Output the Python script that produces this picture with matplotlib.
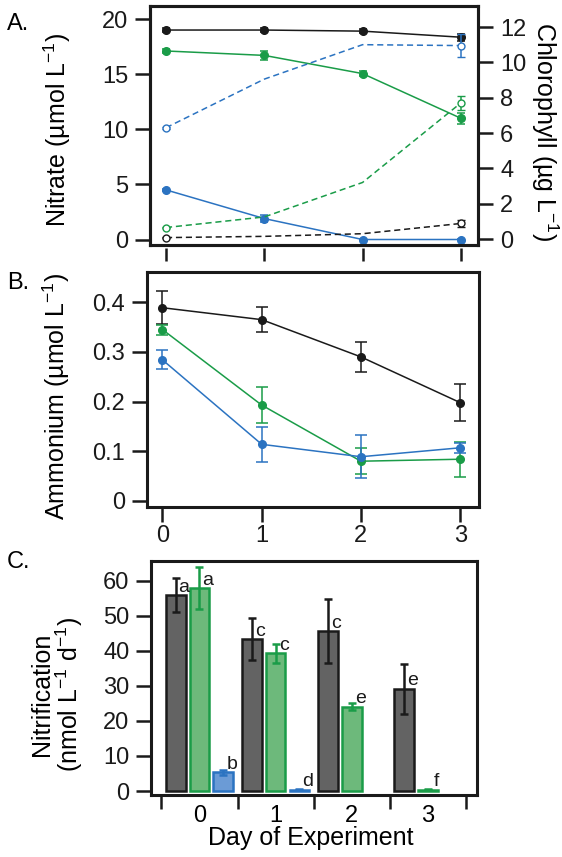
import numpy as np
import matplotlib
matplotlib.use('Agg')
import matplotlib.pyplot as plt

plt.rcParams['font.family'] = ['Liberation Sans', 'DejaVu Sans']
plt.rcParams['mathtext.fontset'] = 'custom'
plt.rcParams['mathtext.rm'] = 'Liberation Sans'
plt.rcParams['mathtext.default'] = 'regular'

# ---- data ----
days = [0, 1, 2, 3]

# A. nitrate (left axis, solid, filled)
nitrate_black = [19.0, 19.0, 18.9, 18.35]
nitrate_black_err = [0.15, 0.15, 0.2, 0.3]
nitrate_green = [17.1, 16.7, 15.05, 11.0]
nitrate_green_err = [0.15, 0.4, 0.2, 0.5]
nitrate_blue = [4.5, 1.9, 0.0, 0.0]
nitrate_blue_err = [0.1, 0.3, 0.05, 0.05]

# A. chlorophyll (right axis, dashed, open)
chl_black = [0.08, 0.15, 0.3, 0.88]
chl_black_err = [0.05, 0, 0, 0.2]
chl_green = [0.65, 1.25, 3.2, 7.7]
chl_green_err = [0.05, 0, 0, 0.4]
chl_blue = [6.3, 9.05, 11.0, 10.95]
chl_blue_err = [0.05, 0, 0, 0.65]

# B. ammonium
amm_black = [0.389, 0.365, 0.290, 0.198]
amm_black_err = [0.033, 0.025, 0.031, 0.037]
amm_green = [0.345, 0.193, 0.080, 0.084]
amm_green_err = [0.01, 0.037, 0.026, 0.035]
amm_blue = [0.284, 0.114, 0.089, 0.107]
amm_blue_err = [0.019, 0.035, 0.043, 0.01]

# C. nitrification
nit_black = [55.9, 43.3, 45.6, 29.1]
nit_black_err = [4.8, 6.0, 9.1, 7.2]
nit_green = [57.8, 39.3, 24.0, 0.4]
nit_green_err = [6.0, 2.7, 1.0, 0.2]
nit_blue = [5.3, 0.4, np.nan, np.nan]
nit_blue_err = [0.7, 0.2, np.nan, np.nan]
let_black = ['a', 'c', 'c', 'e']
let_green = ['a', 'c', 'e', 'f']
let_blue = ['b', 'd', '', '']

BLK = '#1a1a1a'
GRN = '#1a9c48'
BLU = '#2b73c1'

TICK_FS = 17
LAB_FS = 18

fig = plt.figure(figsize=(5.62, 8.57), dpi=100)

def style(ax):
    for s in ax.spines.values():
        s.set_linewidth(2.2)
        s.set_color(BLK)
    ax.tick_params(axis='both', direction='out', length=10.5, width=1.8,
                   labelsize=TICK_FS, colors=BLK, pad=5)

## ---- A ----
axA = fig.add_axes([0.2669, 0.7141, 0.5845, 0.2789])
style(axA)
axA.set_xlim(-0.163, 3.18)
axA.set_ylim(-0.5, 21.18)
axA.set_yticks([0, 5, 10, 15, 20])
axA.tick_params(axis='x', bottom=False, labelbottom=False)
secA = axA.secondary_xaxis(-0.013)
secA.spines['bottom'].set_visible(False)
secA.set_xticks(days)
secA.tick_params(axis='x', direction='out', length=9.5, width=1.8, labelbottom=False, colors=BLK)

for y, e, c in [(nitrate_black, nitrate_black_err, BLK),
                (nitrate_green, nitrate_green_err, GRN),
                (nitrate_blue, nitrate_blue_err, BLU)]:
    axA.errorbar(days, y, yerr=e, color=c, lw=1.1, marker='o', ms=5.5,
                 capsize=3, elinewidth=1.1, capthick=1.1, zorder=3)
axA.set_ylabel('Nitrate (µmol L$^{-1}$)', fontsize=LAB_FS, va='center')
axA.yaxis.set_label_coords(-0.283, 0.48)

ax2 = axA.twinx()
style(ax2)
ax2.set_ylim(-0.34, 13.19)
ax2.set_yticks([0, 2, 4, 6, 8, 10, 12])
for y, e, c in [(chl_black, chl_black_err, BLK),
                (chl_green, chl_green_err, GRN),
                (chl_blue, chl_blue_err, BLU)]:
    ax2.plot(days, y, color=c, lw=1.1, ls=(0, (4, 2.5)), zorder=2)
    ax2.errorbar([days[0], days[3]], [y[0], y[3]], yerr=[e[0], e[3]], color=c,
                 ls='none', marker='o', mfc='white', mec=c, ms=5, mew=1.0,
                 capsize=3, elinewidth=1.1, capthick=1.1, zorder=2)
ax2.set_ylabel('Chlorophyll (µg L$^{-1}$)', fontsize=LAB_FS, rotation=270, va='center')
ax2.yaxis.set_label_coords(1.2025, 0.475)

## ---- B ----
axB = fig.add_axes([0.2607, 0.4088, 0.5916, 0.2742])
style(axB)
axB.set_xlim(-0.161, 3.19)
axB.set_ylim(-0.0115, 0.4616)
axB.set_yticks([0, 0.1, 0.2, 0.3, 0.4])
axB.set_yticklabels(['0', '0.1', '0.2', '0.3', '0.4'])
axB.set_xticks(days)
axB.tick_params(axis='x', pad=3)
for y, e, c in [(amm_black, amm_black_err, BLK),
                (amm_green, amm_green_err, GRN),
                (amm_blue, amm_blue_err, BLU)]:
    axB.errorbar(days, y, yerr=e, color=c, lw=1.1, marker='o', ms=5.5,
                 capsize=4, elinewidth=1.1, capthick=1.1, zorder=3)
axB.set_ylabel('Ammonium (µmol L$^{-1}$)', fontsize=LAB_FS, va='center')
axB.yaxis.set_label_coords(-0.27, 0.467)

## ---- C ----
axC = fig.add_axes([0.2687, 0.0723, 0.5794, 0.2731])
style(axC)
axC.set_xlim(-0.636, 3.64)
axC.set_ylim(-1.14, 65.6)
axC.set_yticks([0, 10, 20, 30, 40, 50, 60])
x = np.arange(len(days))
axC.set_xticks(list(x - 0.5) + [x[-1] + 0.5])
axC.set_xticklabels([])
axC.set_xticks(x, minor=True)
axC.set_xticklabels([str(d) for d in days], minor=True)
axC.tick_params(axis='x', which='minor', length=0, pad=7, labelsize=TICK_FS)
axC.tick_params(axis='x', which='major', length=10)

off = 0.313
w = 0.26
for k, (v, e, fc, ec, lets) in enumerate([
        (nit_black, nit_black_err, '#636363', BLK, let_black),
        (nit_green, nit_green_err, '#6db97b', GRN, let_green),
        (nit_blue, nit_blue_err, '#6b9bd6', BLU, let_blue)]):
    pos = x + (k - 1) * off
    axC.bar(pos, v, width=w, color=fc, edgecolor=ec, linewidth=1.8, zorder=2)
    axC.errorbar(pos, v, yerr=e, fmt='none', ecolor=ec, elinewidth=1.8,
                 capsize=3, capthick=1.8, zorder=3)
    for p, val, t in zip(pos, v, lets):
        if t:
            axC.text(p + w / 2 - 0.02, val + 1.0, t, ha='center', va='baseline',
                     fontsize=14, color=BLK, zorder=4)

axC.set_ylabel('Nitrification\n(nmol L$^{-1}$ d$^{-1}$)', fontsize=LAB_FS,
               linespacing=1.0, va='center')
axC.yaxis.set_label_coords(-0.287, 0.43)
axC.set_xlabel('Day of Experiment', fontsize=LAB_FS)
axC.xaxis.label.set_va('center')
axC.xaxis.set_label_coords(0.49, -0.185)

# panel letters
fig.text(7 / 562, 1 - 24 / 857, 'A.', fontsize=TICK_FS, va='center')
fig.text(7 / 562, 1 - 283 / 857, 'B.', fontsize=TICK_FS, va='center')
fig.text(7 / 562, 1 - 562 / 857, 'C.', fontsize=TICK_FS, va='center')

fig.savefig('out.png', dpi=100)
